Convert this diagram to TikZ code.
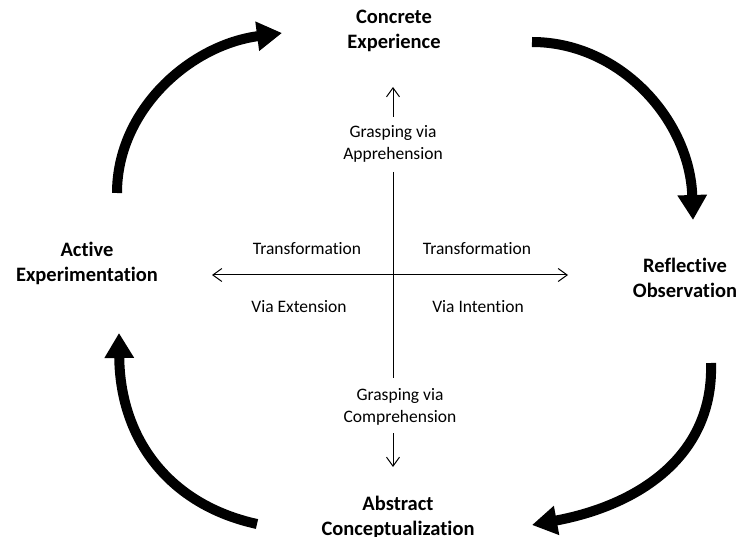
\documentclass[tikz,border=0pt]{standalone}
\usepackage{fontspec}
\setmainfont{Carlito}[Ligatures=CommonOff]
\usetikzlibrary{arrows.meta}
\tikzset{barb/.tip={Straight Barb[length=9pt,width=13pt]}}
\begin{document}
\begin{tikzpicture}[x=1pt,y=-1pt,
  big/.style={font=\bfseries\fontsize{20.5}{25}\selectfont, align=center, anchor=base, inner sep=0pt},
  small/.style={font=\fontsize{17.5}{22}\selectfont, align=center, anchor=base, inner sep=0pt},
  cyclearrow/.style={line width=10pt, -{Triangle[length=25pt,width=28pt]}},
  thinline/.style={line width=1pt}]
\useasboundingbox (0,0) rectangle (739,537);

% stage labels (anchor = baseline of last line)
\node[big] (ce) at (394,49) {Concrete\\Experience};
\node[big] (ro) at (685,298) {Reflective\\Observation};
\node[big] (ae) at (87,282) {Active\\Experimentation};
\node[big] (ac) at (398,535) {Abstract\\Conceptualization};

% inner labels
\node[small] (t1) at (307,255) {Transformation};
\node[small] (t2) at (477,255) {Transformation};
\node[small] (v1) at (299,313) {Via Extension};
\node[small] (v2) at (478,313) {Via Intention};
\node[small] (ga) at (393,160) {Grasping via\\Apprehension};
\node[small] (gc) at (400,422) {Grasping via\\Comprehension};

% thin axes
\coordinate (hl) at (212,275);
\coordinate (hr) at (568,275);
\coordinate (vt) at (393,172);
\coordinate (vb) at (393,378);
\coordinate (ua) at (393,117);
\coordinate (ut) at (393,87);
\coordinate (da) at (393,433);
\coordinate (dt) at (393,467);
\draw[thinline, barb-barb] (hl) -- (hr);
\draw[thinline] (vt) -- (vb);
\draw[thinline, -barb] (ua) -- (ut);
\draw[thinline, -barb] (da) -- (dt);

% cycle arrows
\coordinate (a1s) at (117,193);
\coordinate (a1e) at (282,33);
\coordinate (a2s) at (532,42);
\coordinate (a2e) at (693,220);
\coordinate (a3s) at (711,363);
\coordinate (a3e) at (532,525);
\coordinate (a4s) at (257,524);
\coordinate (a4e) at (119,333);
\draw[cyclearrow] (a1s) .. controls (117,110) and (190,45) .. (a1e);
\draw[cyclearrow] (a2s) .. controls (620,42) and (690,120) .. (a2e);
\draw[cyclearrow] (a3s) .. controls (714,455) and (640,505) .. (a3e);
\draw[cyclearrow] (a4s) .. controls (170,505) and (120,440) .. (a4e);
\end{tikzpicture}
\end{document}
